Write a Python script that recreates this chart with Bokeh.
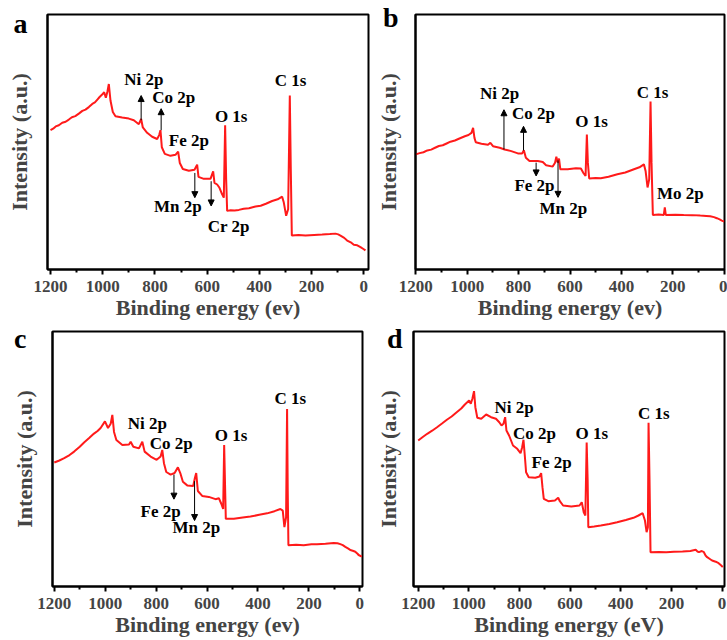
from bokeh.plotting import figure
from bokeh.layouts import column, row
from bokeh.models import Arrow, NormalHead, Range1d, FixedTicker
from bokeh.core.properties import value
from bokeh.embed import file_html
from bokeh.resources import INLINE

FONT = "Liberation Serif"
RED = "#ff1a1a"

# ---- XPS survey spectra: binding energy (eV) / intensity (a.u.) ----
energy_a = [1200, 1190, 1180, 1168, 1155, 1142, 1129.8, 1118, 1105, 1091.5, 1078, 1066, 1053.2, 1040, 1030,
            1021.3, 1012, 1002.2, 994.5, 988.1, 981.7, 976.6, 970.3, 961.3, 951.1, 925.6, 900, 880.9, 861.7,
            852.8, 846.4, 829.8, 810.7, 791.5, 783.8, 778.8, 773.6, 762.2, 740.4, 721.3, 711.1, 704.7, 693.2,
            670.2, 648.5, 638.3, 633.2, 612.8, 587.2, 577, 571.9, 561.7, 552.8, 542.6, 536.2, 531.1, 527.2,
            523.4, 510, 495, 478.7, 460, 440, 414.9, 395, 375, 351, 330, 312.8, 306.4, 297.4, 289.8, 283.4,
            279.6, 275.7, 250, 223.4, 190, 159.5, 130, 108.5, 98, 89.3, 75, 63.8, 50, 38.3, 25, 12.7, 3, -6.4]
intensity_a = [141, 142.5, 144.8, 146, 148.5, 149.5, 151.7, 154, 155.2, 157.7, 160.5, 161.8, 164.3, 167.5, 169,
               171.7, 174.5, 177, 179.3, 173.7, 180.3, 187.7, 171, 159.3, 155, 153.7, 152.7, 151, 147,
               152.3, 143.7, 138.3, 134.3, 132, 136, 141, 123.7, 117, 115, 116, 119.3, 107.7, 101.7,
               100, 101, 106, 93.7, 91.7, 91.7, 99.3, 87.7, 86, 82.7, 76, 72.7, 146, 91,
               59.3, 60, 59.8, 60.3, 61.5, 62, 63.7, 64.5, 66.5, 69.3, 71, 73.7, 67.7, 54.3, 61, 176,
               101, 34.3, 34.8, 34.3, 35, 35.3, 35.8, 36.3, 35.5, 34.3, 32, 29.3, 27.5, 25, 24.5, 22.7, 21, 19.3]

energy_b = [1200, 1185, 1170, 1155, 1140, 1125, 1110, 1095, 1080, 1065, 1047.8, 1030, 1009.1, 995, 983.3,
            976.9, 971.7, 966.5, 944.6, 918.8, 909.8, 899.5, 873.7, 854.3, 828.5, 802.7, 786, 779.5, 771.7,
            757.5, 725.3, 705.9, 693, 667.3, 658.2, 653.1, 647.9, 642.7, 637.6, 609.2, 577, 557.6, 547.3,
            539.5, 534.4, 530.5, 525.4, 500, 480.2, 450, 415.7, 385, 351.2, 330, 312.5, 306, 298.3, 291.9,
            286.7, 282.8, 277.7, 255, 235.1, 231.2, 227.4, 190, 157.7, 125, 93.2, 70, 54.5, 40, 28.7, 18,
            9.4, 0.3]
intensity_b = [116, 117.3, 118.2, 120, 120.8, 122.7, 124.5, 125.2, 127, 128.8, 130, 132, 134.3, 135.5, 137.7,
               142.7, 132.7, 128.3, 126.7, 125.7, 127.7, 124.3, 122.7, 121, 119.3, 117, 117, 120.3, 112.7,
               109.3, 109.3, 108.3, 105, 103.7, 107.7, 113.7, 107.7, 111.7, 101, 101, 102, 101.7, 97,
               94.3, 136, 107.7, 91.7, 92.3, 92, 93.5, 96, 97.8, 101, 103, 106, 99.3, 82.7, 91,
               169.3, 107.7, 55, 55.5, 55, 62.7, 55, 55.3, 55, 54.8, 54.3, 54, 53.7, 52.8, 51.7, 50.5,
               49.3, 48.3]

energy_c = [1200, 1180, 1161, 1140, 1122, 1100, 1083, 1062, 1044, 1030, 1018, 1001, 989, 978.5, 972, 965.4,
            956.2, 932.7, 906.6, 900, 889.6, 867.4, 854.3, 845.2, 821.6, 798, 782.4, 775.9, 769.3, 760.2,
            743.2, 727.5, 714.5, 704, 694.9, 677.9, 654.4, 647.8, 642.6, 636.1, 619.1, 593, 566.8, 553.7,
            544.6, 536.7, 532.8, 528.8, 526.3, 494.9, 460, 429.5, 395, 364.2, 335, 312, 302.7, 296.2, 289.6,
            285.7, 283.1, 280.5, 250, 220.4, 190, 168.1, 135, 102.7, 88, 76.6, 67, 57, 45, 37.4, 25, 17.8,
            8, 4.8, -8]
intensity_c = [127, 129, 131.3, 134.5, 138, 143, 147.3, 152, 156.3, 159, 162, 168.7, 162, 166.3, 175.3, 158,
               149.7, 144.7, 145.3, 148, 143, 141.3, 148, 138, 133, 129.7, 133, 139.7, 126.3, 117.3,
               114.7, 116.3, 122, 115.3, 107.3, 103.7, 103, 111.3, 116.3, 98, 93, 92, 89.7, 90.7,
               85.3, 79.7, 144.7, 98, 69.7, 69.7, 71, 72, 73.8, 75.3, 77.5, 79.7, 78, 61.3, 71.3,
               181.3, 98, 43, 43.5, 43, 43.8, 44, 44.5, 45.3, 45, 44, 43, 41.3, 39.5, 38, 37, 36.3,
               34, 33, 31.3]

energy_d = [1200, 1182, 1164.4, 1145, 1125.6, 1106, 1086.8, 1068, 1048, 1030, 1015.7, 998.9, 992.4, 986,
            979.5, 974.3, 966.6, 951, 931.6, 912.2, 892.8, 879.9, 870.9, 863.1, 856.6, 851.5, 841.1, 825.6,
            808.8, 795.8, 789.4, 784.2, 779, 773.9, 763.5, 737.6, 720.9, 714.4, 709.2, 704, 686, 660, 647.1,
            640.6, 627.7, 595.4, 563, 554, 546.2, 539.8, 534.6, 530.7, 528.1, 505, 479, 445, 414.3, 380,
            349.7, 330, 313.4, 304.4, 297.9, 292.8, 290.2, 286.3, 282.4, 250, 220.3, 190, 155.8, 125, 104,
            97, 91, 80, 71.6, 65, 58.7, 48, 39.3, 25, 13.4, 3, -3]
intensity_d = [147, 150.5, 153.7, 156.8, 160.3, 164, 167.7, 171, 175.3, 179, 183, 187, 183.7, 188.7,
               196.3, 180.3, 169.7, 168.7, 173, 170.3, 168.7, 165.3, 162, 163.7, 170.3, 157, 152, 142,
               138.7, 134.3, 140.3, 147.7, 132, 115.3, 110.3, 109.7, 111, 114.3, 100.3, 88.7, 86.3, 87, 89.7,
               86.3, 82, 81, 82, 85.3, 75.3, 72, 145, 107, 60.3, 61, 62, 63.5, 65.3, 67.5,
               69.7, 72, 74.3, 67, 55.3, 60.3, 164.7, 107, 35.3, 35.5, 35.3, 35.8, 36, 36.5, 37.7,
               36, 35.3, 36.5, 35.3, 32, 30.3, 28.5, 27, 25.8, 24.3, 22, 20.3]

# ---- peak assignments: text, energy, intensity of the text centre ----
peaks_a_text = ["Ni 2p", "Co 2p", "Fe 2p", "O 1s", "C 1s", "Mn 2p", "Cr 2p"]
peaks_a_x = [842.6, 727.7, 670.2, 508, 280.8, 712.4, 517]
peaks_a_y = [192.7, 174.3, 131, 154.3, 191, 63.7, 43.7]
peaks_b_text = ["Ni 2p", "Co 2p", "O 1s", "C 1s", "Fe 2p", "Mn 2p", "Mo 2p"]
peaks_b_x = [873.7, 742, 516.3, 279, 738.2, 626, 170.6]
peaks_b_y = [177, 157, 148.7, 178.7, 85, 61, 77]
peaks_c_text = ["Ni 2p", "Co 2p", "O 1s", "C 1s", "Fe 2p", "Mn 2p"]
peaks_c_x = [834.7, 740.6, 505.3, 273, 782.4, 642]
peaks_c_y = [166.3, 146.3, 154.7, 192, 77.3, 60.7]
peaks_d_text = ["Ni 2p", "Co 2p", "Fe 2p", "O 1s", "C 1s"]
peaks_d_x = [821.7, 741, 673, 514.5, 269]
peaks_d_y = [180.3, 154.5, 125.3, 154.5, 174.5]

# ---- pointer arrows: energy, start intensity, end intensity ----
arrows_a = [(852.8, 151, 176), (776.2, 141, 162.7), (647.2, 97.7, 72.7), (584.7, 89.3, 64.3)]
arrows_b = [(856.9, 121, 161), (780.8, 120, 144.3), (731.8, 107.7, 94.3), (646.6, 110, 72.7)]
arrows_c = [(730, 114.7, 89.7), (649, 108, 68)]
arrows_d = []

major_ticks = [0, 200, 400, 600, 800, 1000, 1200]
minor_ticks = [100, 300, 500, 700, 900, 1100]


def panel(letter, energy, intensity, ptext, px, py, arrows, xlabel, xr, yr,
          width, height, left, right, top, bottom, letter_y, letter_gap, title_gap):
    assert len(energy) == len(intensity)
    p = figure(width=width, height=height, output_backend="svg", toolbar_location=None,
               x_range=Range1d(*xr), y_range=Range1d(*yr),
               min_border_left=left, min_border_right=right,
               min_border_top=top, min_border_bottom=bottom)
    p.background_fill_color = "white"
    p.border_fill_color = "white"
    p.outline_line_color = "black"
    p.outline_line_width = 2
    p.xgrid.visible = False
    p.ygrid.visible = False

    xa = p.xaxis[0]
    xa.ticker = FixedTicker(ticks=major_ticks, minor_ticks=minor_ticks)
    xa.axis_line_width = 2
    xa.major_tick_out = 5
    xa.major_tick_in = 0
    xa.minor_tick_out = 3
    xa.minor_tick_in = 0
    xa.major_tick_line_width = 2
    xa.minor_tick_line_width = 2
    xa.major_label_text_font = FONT
    xa.major_label_text_font_style = "bold"
    xa.major_label_text_font_size = "17px"
    xa.major_label_standoff = 6
    xa.axis_label = xlabel
    xa.axis_label_text_font = FONT
    xa.axis_label_text_font_style = "bold"
    xa.axis_label_text_font_size = "22px"
    xa.axis_label_standoff = 0

    # intensity axis carries no values; its single label is the panel letter at the top
    ya = p.yaxis[0]
    ya.ticker = FixedTicker(ticks=[letter_y])
    ya.major_label_overrides = {letter_y: letter}
    ya.axis_line_width = 2
    ya.major_tick_out = 0
    ya.major_tick_in = 0
    ya.minor_tick_out = 0
    ya.minor_tick_in = 0
    ya.major_label_text_font = FONT
    ya.major_label_text_font_style = "bold"
    ya.major_label_text_font_size = "28px"
    ya.major_label_text_color = "black"
    ya.major_label_standoff = letter_gap
    ya.axis_label = "Intensity (a.u.)"
    ya.axis_label_text_font = FONT
    ya.axis_label_text_font_style = "bold"
    ya.axis_label_text_font_size = "22px"
    ya.axis_label_standoff = title_gap

    p.line(energy, intensity, line_color=RED, line_width=2)

    for x, y0, y1 in arrows:
        p.add_layout(Arrow(x_start=x, y_start=y0, x_end=x, y_end=y1, line_width=1,
                           line_color="black",
                           end=NormalHead(size=6, fill_color="black", line_color="black")))

    p.text(x=px, y=py, text=ptext, text_font=value(FONT), text_font_style="bold",
           text_font_size="17px", text_align="center", text_baseline="middle", text_color="black")
    return p


pa = panel("a", energy_a, intensity_a, peaks_a_text, peaks_a_x, peaks_a_y, arrows_a,
           "Binding energy (ev)", (1211.5, -18), (0, 258), 372, 322, 47, 4, 13, 51, 249.4, 20, -21)
pb = panel("b", energy_b, intensity_b, peaks_b_text, peaks_b_x, peaks_b_y, arrows_b,
           "Binding energy (ev)", (1201, -1), (0, 257), 355, 322, 42, 3, 14, 51, 256.9, 17, -21)
pc = panel("c", energy_c, intensity_c, peaks_c_text, peaks_c_x, peaks_c_y, arrows_c,
           "Binding energy (ev)", (1207, -10.5), (1, 260), 372, 318, 52, 10, 6, 53, 253.4, 26, -26)
pd = panel("d", energy_d, intensity_d, peaks_d_text, peaks_d_x, peaks_d_y, arrows_d,
           "Binding energy (eV)", (1218.6, -9.8), (1, 256), 355, 318, 36, 3, 9, 54, 250.4, 11, -17)

layout = column(row(pa, pb), row(pc, pd))
open("out.html", "w").write(file_html(layout, INLINE))
